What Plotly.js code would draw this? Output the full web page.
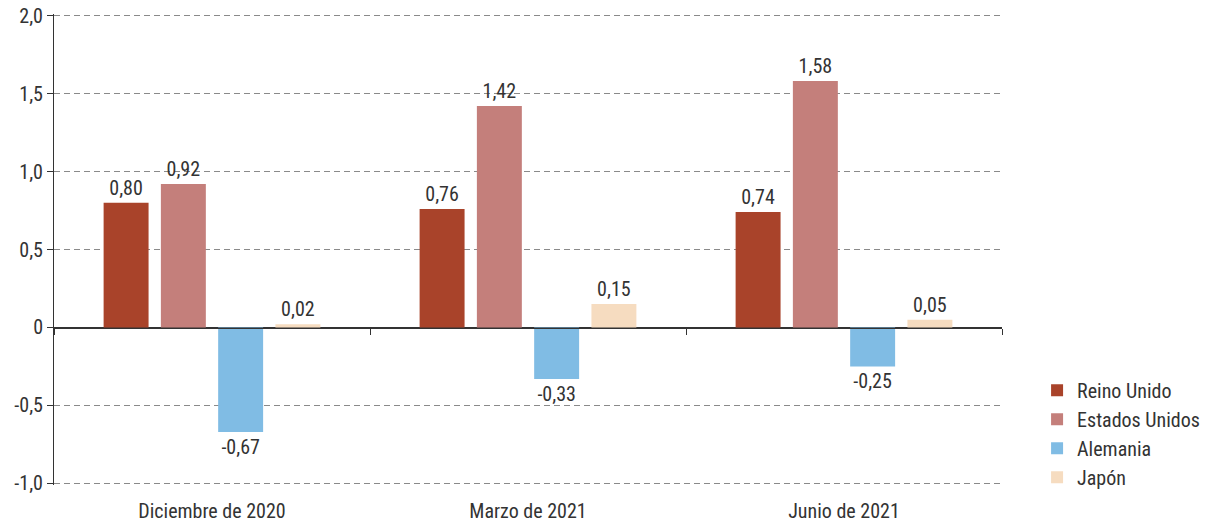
<!DOCTYPE html>
<html>
<head>
<meta charset="utf-8">
<script src="https://cdn.plot.ly/plotly-3.0.1.min.js"></script>
<style>html,body{margin:0;padding:0;background:#fff;}#chart{width:1205px;height:522px;}</style>
</head>
<body>
<div id="chart"></div>
<script>
const categories = ["Diciembre de 2020", "Marzo de 2021", "Junio de 2021"];
const seriesNames = ["Reino Unido", "Estados Unidos", "Alemania", "Japón"];
const reinoUnido = [0.80, 0.76, 0.74];
const estadosUnidos = [0.92, 1.42, 1.58];
const alemania = [-0.67, -0.33, -0.25];
const japon = [0.02, 0.15, 0.05];
const yTickVals = [2.0, 1.5, 1.0, 0.5, 0, -0.5, -1.0];
const yTickText = ["2,0", "1,5", "1,0", "0,5", "0", "-0,5", "-1,0"];
const colors = ["#A9432A", "#C47F7B", "#80BCE4", "#F6DCC0"];

const FONT = '"Liberation Sans Narrow", "Roboto Condensed", "Arial Narrow", "Roboto", sans-serif';
const FS = 20;
const fmt = v => v.toFixed(2).replace('.', ',');

const allSeries = [reinoUnido, estadosUnidos, alemania, japon];
const traces = allSeries.map((vals, i) => ({
  type: 'bar',
  name: seriesNames[i],
  x: categories,
  y: vals,
  text: vals.map(fmt),
  textposition: 'outside',
  cliponaxis: false,
  textfont: {family: FONT, size: FS, color: '#333333'},
  marker: {color: colors[i], line: {width: 0}},
  hoverinfo: 'skip'
}));
traces.push({
  type: 'scatter', mode: 'markers', x: categories, y: [null, null, null],
  xaxis: 'x2', yaxis: 'y', showlegend: false, hoverinfo: 'skip'
});

const layout = {
  width: 1205, height: 522,
  margin: {l: 54, r: 203, t: 14, b: 37, autoexpand: false},
  paper_bgcolor: '#ffffff', plot_bgcolor: '#ffffff',
  font: {family: FONT, size: FS, color: '#333333'},
  barmode: 'group',
  bargap: 0.275,
  bargroupgap: 0.215,
  showlegend: true,
  legend: {
    x: 1.037, xanchor: 'left', y: -0.025, yanchor: 'bottom',
    font: {family: FONT, size: FS, color: '#333333'},
    traceorder: 'normal', tracegroupgap: 0, itemclick: false
  },
  xaxis: {
    type: 'category', showline: false, showgrid: false, zeroline: false,
    ticks: '', ticklabelstandoff: 12, automargin: false,
    tickfont: {family: FONT, size: FS, color: '#333333'}
  },
  xaxis2: {
    type: 'category', overlaying: 'x', matches: 'x', anchor: 'free', position: 1/3,
    showline: true, linecolor: '#333333', linewidth: 1,
    ticks: 'outside', tickson: 'boundaries', ticklen: 6, tickcolor: '#333333', tickwidth: 1,
    showticklabels: false, showgrid: false, zeroline: false
  },
  yaxis: {
    range: [-1.01, 2.01], tickvals: yTickVals, ticktext: yTickText,
    showline: true, linecolor: '#333333', linewidth: 1, automargin: false,
    ticks: 'outside', ticklen: 6, tickcolor: '#333333',
    showgrid: true, gridcolor: '#8a8a8a', griddash: '6px,4px', gridwidth: 1,
    zeroline: true, zerolinecolor: '#333333', zerolinewidth: 1,
    tickfont: {family: FONT, size: FS, color: '#333333'}
  }
};

Plotly.newPlot('chart', traces, layout, {displayModeBar: false, staticPlot: true});
</script>
</body>
</html>
